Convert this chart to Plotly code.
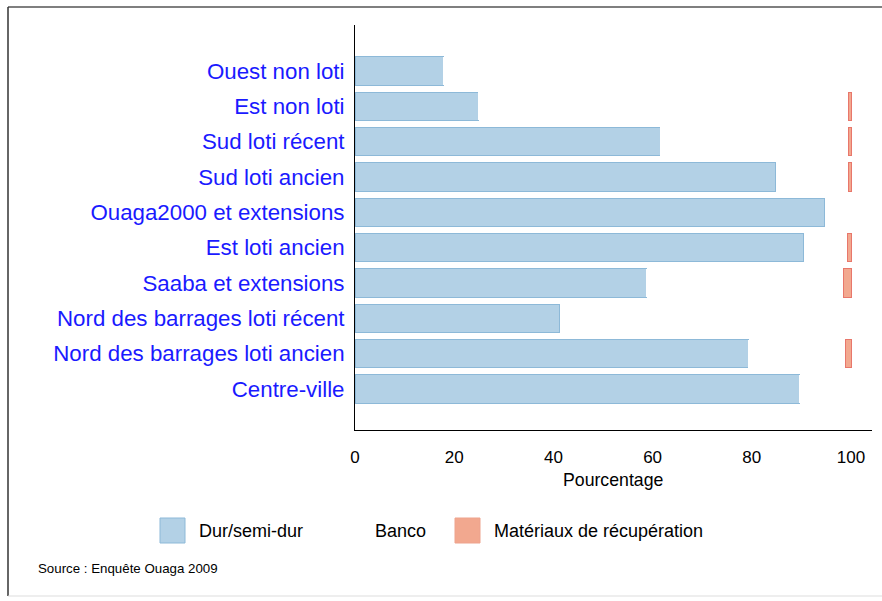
import plotly.graph_objects as go

categories = ["Ouest non loti", "Est non loti", "Sud loti récent", "Sud loti ancien",
              "Ouaga2000 et extensions", "Est loti ancien", "Saaba et extensions",
              "Nord des barrages loti récent", "Nord des barrages loti ancien", "Centre-ville"]
dur = [17.8, 24.8, 61.5, 84.8, 94.7, 90.5, 58.7, 41.3, 79.3, 89.6]
banco = [82.2, 74.6, 38.0, 14.7, 5.3, 8.7, 39.7, 58.7, 19.5, 10.4]
recup = [0.0, 0.6, 0.5, 0.5, 0.0, 0.8, 1.6, 0.0, 1.2, 0.0]
x_ticks = [0, 20, 40, 60, 80, 100]

W, H = 882, 601
L, R, T, B = 355, 872, 25, 430  # plot area in pixels

def px(p):
    return (p - L) / (R - L)

def py(p):
    return (B - p) / (B - T)

fig = go.Figure()
fig.add_trace(go.Bar(y=categories, x=dur, orientation="h", name="Dur/semi-dur", width=0.8,
                     marker=dict(color="#b3d1e6", line=dict(color="#8db9d8", width=1))))
fig.add_trace(go.Bar(y=categories, x=banco, orientation="h", name="Banco", width=0.8,
                     marker=dict(color="#ffffff", line=dict(width=0))))
fig.add_trace(go.Bar(y=categories, x=recup, orientation="h", name="Matériaux de récupération", width=0.8,
                     marker=dict(color="#f2a88f",
                                 line=dict(color="#e8776b", width=[1 if v > 0 else 0 for v in recup]))))

font = "Liberation Sans, Arial, Helvetica, sans-serif"

fig.update_layout(
    width=W, height=H, barmode="stack", showlegend=False,
    paper_bgcolor="white", plot_bgcolor="white",
    margin=dict(l=L, r=W - R, t=T, b=H - B),
    font=dict(family=font, color="black"),
    xaxis=dict(range=[0, (R - L) / 4.96], tickvals=x_ticks, showgrid=False, zeroline=False,
               showline=True, linecolor="black", linewidth=1, ticks="",
               ticklabelstandoff=12, tickfont=dict(size=17, color="black")),
    yaxis=dict(categoryorder="array", categoryarray=categories, range=[10.16, -1.30],
               showgrid=False, zeroline=False, showline=True, linecolor="black", linewidth=1,
               ticks="", ticklabelstandoff=5, tickfont=dict(size=22.3, color="#1a1aff")),
)

# axis title
fig.add_annotation(x=px(613), y=py(480), xref="paper", yref="paper", text="Pourcentage",
                   showarrow=False, font=dict(size=17.7, color="black"), xanchor="center", yanchor="middle")

# legend
legend_items = [("Dur/semi-dur", "#b3d1e6", "#8db9d8", 160, 197),
                ("Banco", "#ffffff", "#ffffff", 336, 373),
                ("Matériaux de récupération", "#f2a88f", "#eea38d", 455, 492)]
for name, fill, edge, kx, tx in legend_items:
    fig.add_shape(type="rect", xref="paper", yref="paper",
                  x0=px(kx), x1=px(kx + 25), y0=py(543), y1=py(518),
                  fillcolor=fill, line=dict(color=edge, width=1))
    fig.add_annotation(x=px(tx), y=py(531), xref="paper", yref="paper", text=name,
                       showarrow=False, xanchor="left", yanchor="middle",
                       font=dict(size=18, color="black"))

# source
fig.add_annotation(x=px(36), y=py(568), xref="paper", yref="paper", text="Source : Enquête Ouaga 2009",
                   showarrow=False, xanchor="left", yanchor="middle", font=dict(size=13.3, color="black"))

# frame
fig.add_shape(type="line", xref="paper", yref="paper", x0=px(8), x1=px(882), y0=py(7), y1=py(7),
              line=dict(color="#555555", width=1.5))
fig.add_shape(type="line", xref="paper", yref="paper", x0=px(8), x1=px(8), y0=py(7), y1=py(596),
              line=dict(color="#333333", width=1.5))
fig.add_shape(type="line", xref="paper", yref="paper", x0=px(8), x1=px(882), y0=py(596), y1=py(596),
              line=dict(color="#dddddd", width=1))

fig.write_html("out.html", config={"displayModeBar": False},
               post_script="document.body.style.margin='0';")
